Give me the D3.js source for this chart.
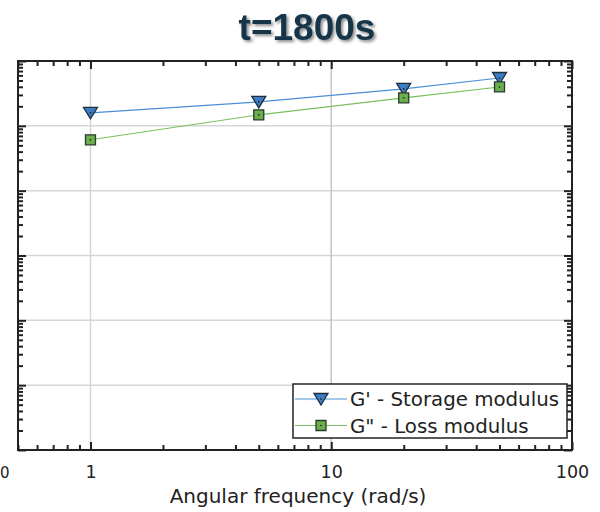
<!DOCTYPE html>
<html><head><meta charset="utf-8">
<script src="https://cdn.jsdelivr.net/npm/d3@7"></script>
<style>body{margin:0;background:#fff} svg{display:block}</style>
</head><body>
<svg id="chart" width="600" height="512"></svg>
<script>
// Frequency sweep at t = 1800 s
const frequencies = [1, 5, 20, 50];
const storageModulus = [1585, 2340, 3710, 5470];
const lossModulus = [609, 1475, 2700, 3980];
const xTickValues = [1, 10, 100];
const xTickLabels = ["1", "10", "100"];
const seriesNames = ["G' - Storage modulus", "G\" - Loss modulus"];
const titleText = "t=1800s";
const xAxisTitle = "Angular frequency (rad/s)";

const svg = d3.select("#chart");
const box = {left: 18, right: 572, top: 61, bottom: 450};
const x = d3.scaleLog().domain([0.5, 100]).range([box.left, box.right]);
const y = d3.scaleLog().domain([0.01, 10000]).range([box.bottom, box.top]);

const font = "DejaVu Sans, sans-serif";

// minor tick values for each decade
function minors(lo, hi) {
  const out = [];
  for (let e = Math.floor(Math.log10(lo)); e < Math.ceil(Math.log10(hi)); e++) {
    for (let m = 1; m <= 9; m++) {
      const v = m * Math.pow(10, e);
      if (v >= lo * 0.999 && v <= hi * 1.001) out.push(v);
    }
  }
  return out;
}
const xMajors = [1, 10, 100];
const xMinors = minors(0.5, 100).filter(v => !xMajors.includes(v));
const yMajors = [0.01, 0.1, 1, 10, 100, 1000, 10000];
const yMinors = minors(0.01, 10000).filter(v => !yMajors.includes(v));

// grid
const grid = svg.append("g").attr("stroke", "#d6d6d6").attr("stroke-width", 1.5);
grid.selectAll("line.h").data(yMajors.slice(1, -1)).join("line")
  .attr("x1", box.left).attr("x2", box.right)
  .attr("y1", d => y(d)).attr("y2", d => y(d));
grid.selectAll("line.v").data([1, 10]).join("line")
  .attr("y1", box.top).attr("y2", box.bottom)
  .attr("x1", d => x(d)).attr("x2", d => x(d))
  .attr("stroke", d => d === 10 ? "#c4c4c4" : "#d6d6d6");

// axes with inward ticks
function styleAxis(g) {
  g.select(".domain").remove();
  g.selectAll(".tick line").attr("stroke", "#222").attr("stroke-width", 2);
}
const majLen = 8, minLen = 5;
svg.append("g").attr("transform", `translate(0,${box.bottom})`)
  .call(d3.axisBottom(x).tickValues(xMinors).tickSize(-minLen).tickFormat("")).call(styleAxis);
svg.append("g").attr("transform", `translate(0,${box.bottom})`)
  .call(d3.axisBottom(x).tickValues(xTickValues).tickSize(-majLen).tickPadding(majLen + 8)
    .tickFormat((d, i) => xTickLabels[i]))
  .call(styleAxis)
  .call(g => g.selectAll("text").attr("font-family", font).attr("font-size", 17.5).attr("fill", "#222"));
svg.append("g").attr("transform", `translate(0,${box.top})`)
  .call(d3.axisTop(x).tickValues(xMinors).tickSize(-minLen).tickFormat("")).call(styleAxis);
svg.append("g").attr("transform", `translate(0,${box.top})`)
  .call(d3.axisTop(x).tickValues(xTickValues).tickSize(-majLen).tickFormat("")).call(styleAxis);
svg.append("g").attr("transform", `translate(${box.left},0)`)
  .call(d3.axisLeft(y).tickValues(yMinors).tickSize(-minLen).tickFormat("")).call(styleAxis);
svg.append("g").attr("transform", `translate(${box.left},0)`)
  .call(d3.axisLeft(y).tickValues(yMajors).tickSize(-majLen).tickFormat("")).call(styleAxis);
svg.append("g").attr("transform", `translate(${box.right},0)`)
  .call(d3.axisRight(y).tickValues(yMinors).tickSize(-minLen).tickFormat("")).call(styleAxis);
svg.append("g").attr("transform", `translate(${box.right},0)`)
  .call(d3.axisRight(y).tickValues(yMajors).tickSize(-majLen).tickFormat("")).call(styleAxis);

// frame
svg.append("rect").attr("x", box.left).attr("y", box.top)
  .attr("width", box.right - box.left).attr("height", box.bottom - box.top)
  .attr("fill", "none").attr("stroke", "#222").attr("stroke-width", 2);

// tick label at the left edge
svg.append("text").attr("x", 0).attr("y", box.bottom + 28).attr("text-anchor", "start")
  .attr("font-family", font).attr("font-size", 15).attr("fill", "#222").text("0");

// series
const tri = "M-7,-5.5H7L0,6Z";
const sq = "M-5,-5H5V5H-5Z";
const series = [
  {name: seriesNames[0], values: storageModulus, line: "#4a8fd6", fill: "#3b7ec6", stroke: "#1f2d3d", path: tri},
  {name: seriesNames[1], values: lossModulus, line: "#7bbf5c", fill: "#6aae4e", stroke: "#2c3a2c", path: sq}
];
const line = d3.line().x(d => x(d[0])).y(d => y(d[1]));
series.forEach(s => {
  const pts = frequencies.map((f, i) => [f, s.values[i]]);
  svg.append("path").datum(pts).attr("d", line)
    .attr("fill", "none").attr("stroke", s.line).attr("stroke-width", 1.1);
  const m = svg.append("g").selectAll("g").data(pts).join("g")
    .attr("transform", d => `translate(${x(d[0])},${y(d[1])})`);
  m.append("path").attr("d", s.path).attr("fill", s.fill).attr("stroke", s.stroke).attr("stroke-width", 1.3);
  m.append("circle").attr("r", 0.8).attr("fill", "#111");
});

// legend
const lg = svg.append("g").attr("transform", "translate(293,384)");
lg.append("rect").attr("width", 274).attr("height", 54)
  .attr("fill", "#fff").attr("stroke", "#222").attr("stroke-width", 1.5);
series.forEach((s, i) => {
  const cy = 15 + i * 26.5;
  lg.append("line").attr("x1", 2).attr("x2", 54).attr("y1", cy).attr("y2", cy)
    .attr("stroke", s.line).attr("stroke-width", 1.1);
  const g = lg.append("g").attr("transform", `translate(28,${cy})`);
  g.append("path").attr("d", s.path).attr("fill", s.fill).attr("stroke", s.stroke).attr("stroke-width", 1.3);
  g.append("circle").attr("r", 0.8).attr("fill", "#111");
  lg.append("text").attr("x", 57).attr("y", cy + 7)
    .attr("font-family", font).attr("font-size", 19.8).attr("fill", "#222").text(s.name);
});

// axis title
svg.append("text").attr("x", 298).attr("y", 503).attr("text-anchor", "middle")
  .attr("font-family", font).attr("font-size", 20).attr("fill", "#222").text(xAxisTitle);

// title with soft shadow
const defs = svg.append("defs");
const f = defs.append("filter").attr("id", "shadow").attr("x", "-10%").attr("y", "-20%")
  .attr("width", "130%").attr("height", "150%");
f.append("feDropShadow").attr("dx", 2).attr("dy", 2).attr("stdDeviation", 1.5)
  .attr("flood-color", "#000").attr("flood-opacity", 0.45);
svg.append("text").attr("x", 307).attr("y", 40).attr("text-anchor", "middle")
  .attr("font-family", "Liberation Sans Narrow, Liberation Sans, sans-serif")
  .attr("font-weight", "bold").attr("font-size", 37).attr("fill", "#16344a")
  .attr("filter", "url(#shadow)").text(titleText);
</script>
</body></html>
